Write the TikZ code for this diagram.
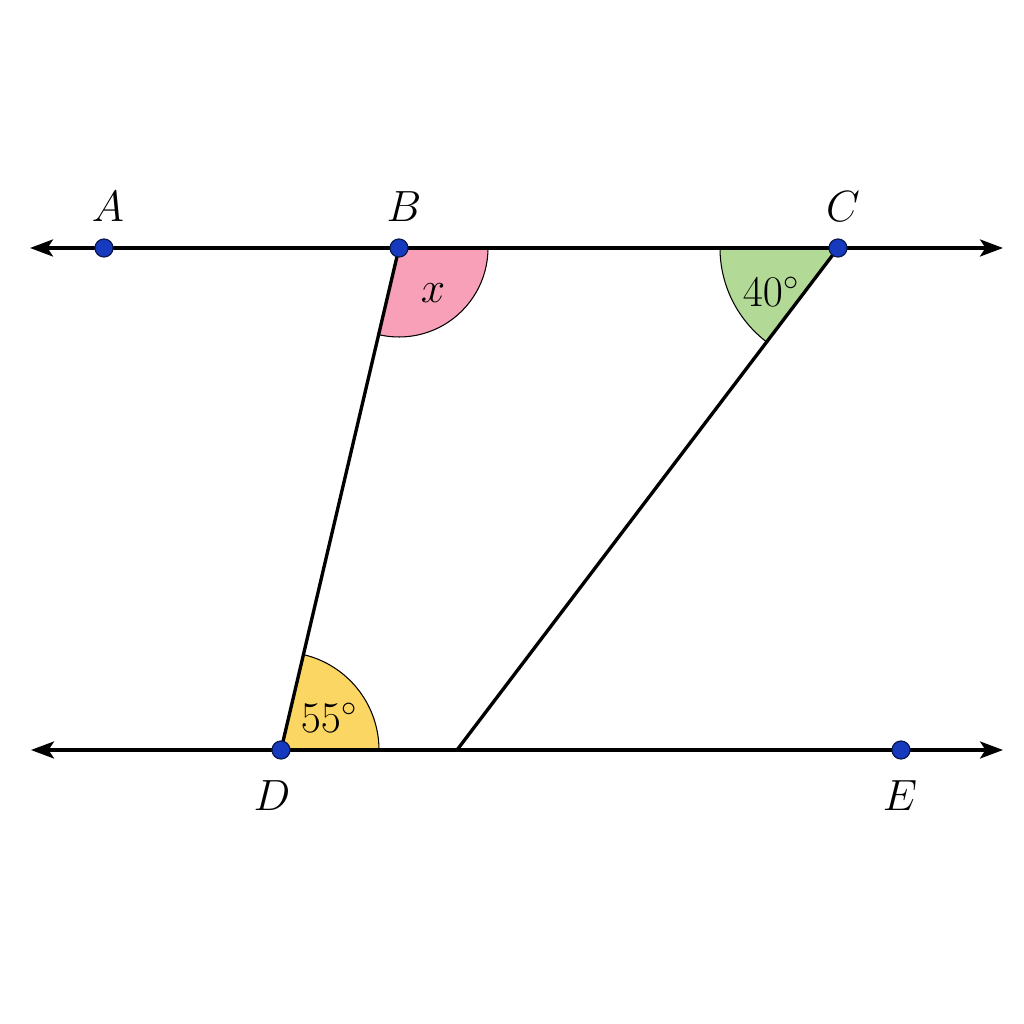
\documentclass[tikz,border=0pt]{standalone}
\usetikzlibrary{arrows.meta,calc}
\definecolor{pinkfill}{RGB}{248,160,184}
\definecolor{greenfill}{RGB}{178,218,150}
\definecolor{yellowfill}{RGB}{251,214,98}
\definecolor{dotblue}{RGB}{22,58,190}
\definecolor{dotedge}{RGB}{10,25,80}
\tikzset{
  pt/.style={circle,fill=dotblue,draw=dotedge,line width=0.7pt,inner sep=0pt,minimum size=0.36cm},
  mainline/.style={line width=1.9pt,black},
  dbl/.style={mainline,{Stealth[length=0.46cm,width=0.34cm,inset=0.11cm]}-{Stealth[length=0.46cm,width=0.34cm,inset=0.11cm]}},
  sector/.style={draw=black,line width=0.6pt},
  lbl/.style={font=\fontsize{27}{32}\selectfont},
  albl/.style={font=\fontsize{24.5}{29}\selectfont}
}
\begin{document}
\begin{tikzpicture}[x=0.02cm,y=0.02cm]
\useasboundingbox (0,0) rectangle (1024,1024);
\fill[white] (0,0) rectangle (1024,1024);
% coordinates
\coordinate (A) at (104,776);
\coordinate (B) at (399,776);
\coordinate (C) at (838,776);
\coordinate (D) at (281,274);
\coordinate (E) at (901,274);
\coordinate (F) at (457,274);
\coordinate (TL) at (30,776);
\coordinate (TR) at (1003,776);
\coordinate (BL) at (31,274);
\coordinate (BR) at (1003,274);
% sectors
\filldraw[sector,fill=pinkfill] (B) -- ++(0:89) arc[start angle=0,end angle=-103.23,radius=89] -- cycle;
\filldraw[sector,fill=greenfill] (C) -- ++(180:118) arc[start angle=180,end angle=232.8,radius=118] -- cycle;
\filldraw[sector,fill=yellowfill] (D) -- ++(0:98) arc[start angle=0,end angle=76.77,radius=98] -- cycle;
% lines
\draw[dbl] (TL) -- (TR);
\draw[dbl] (BL) -- (BR);
\draw[mainline] (B) -- (D);
\draw[mainline] (C) -- (F);
% points
\node[pt] (pA) at (A) {};
\node[pt] (pB) at (B) {};
\node[pt] (pC) at (C) {};
\node[pt] (pD) at (D) {};
\node[pt] (pE) at (E) {};
% labels
\node[lbl] (lA) at (108,817) {$A$};
\node[lbl] (lB) at (404,817) {$B$};
\node[lbl] (lC) at (843,817) {$C$};
\node[lbl] (lD) at (272,228) {$D$};
\node[lbl] (lE) at (900,228) {$E$};
\node[albl] (ax) at (433,731) {$x$};
\node[albl] (a40) at (771,732) {$40^\circ$};
\node[albl] (a55) at (329,306) {$55^\circ$};
\end{tikzpicture}
\end{document}
